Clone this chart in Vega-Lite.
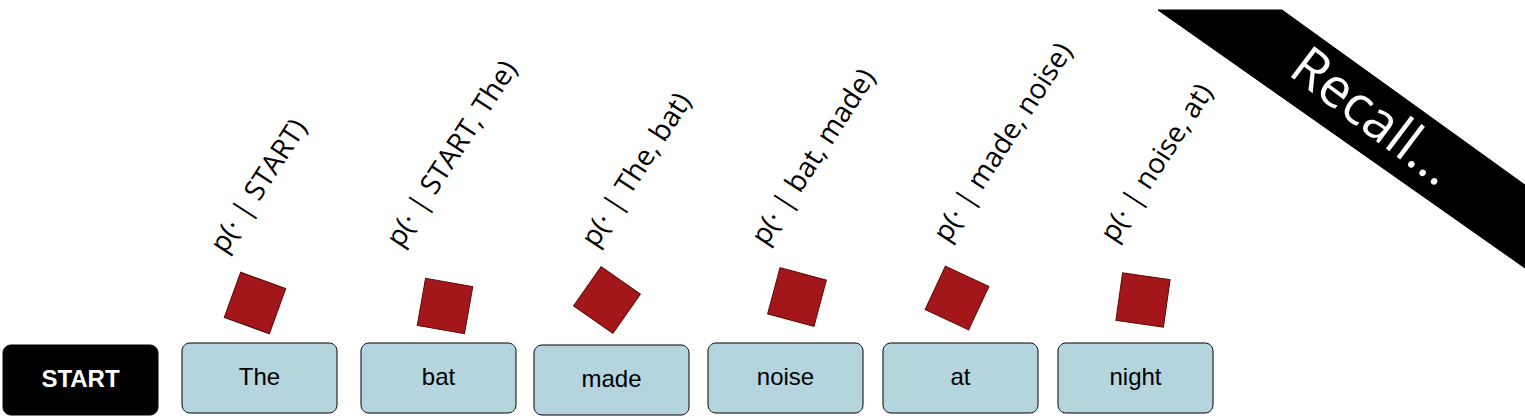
{
  "$schema": "https://vega.github.io/schema/vega-lite/v6.json",
  "width": 1525, "height": 418, "padding": 0, "autosize": {"type": "none"},
  "background": "white",
  "config": {"view": {"stroke": null}},
  "datasets": {
    "boxes": [
      {"w": "START", "x0": 3, "x1": 158, "y0": 345, "y1": 415, "start": true},
      {"w": "The", "x0": 182, "x1": 337, "y0": 343, "y1": 413, "start": false},
      {"w": "bat", "x0": 361, "x1": 516, "y0": 343, "y1": 413, "start": false},
      {"w": "made", "x0": 534, "x1": 689, "y0": 345, "y1": 415, "start": false},
      {"w": "noise", "x0": 708, "x1": 863, "y0": 343, "y1": 413, "start": false},
      {"w": "at", "x0": 883, "x1": 1038, "y0": 343, "y1": 413, "start": false},
      {"w": "night", "x0": 1058, "x1": 1213, "y0": 343, "y1": 413, "start": false}
    ],
    "labels": [
      {"t": "p(· | START)", "x": 230, "y": 258},
      {"t": "p(· | START, The)", "x": 406, "y": 252},
      {"t": "p(· | The, bat)", "x": 601, "y": 252},
      {"t": "p(· | bat, made)", "x": 771, "y": 250},
      {"t": "p(· | made, noise)", "x": 953, "y": 247},
      {"t": "p(· | noise, at)", "x": 1120, "y": 247}
    ],
    "dice": [
      {"x": 255, "y": 303, "a": 20},
      {"x": 445, "y": 306, "a": 10},
      {"x": 607, "y": 300, "a": 35},
      {"x": 797, "y": 297, "a": 15},
      {"x": 957, "y": 298, "a": 25},
      {"x": 1143, "y": 300, "a": 8}
    ],
    "banner": [
      {"x": 1158, "y": 10, "o": 1},
      {"x": 1282, "y": 10, "o": 2},
      {"x": 1525, "y": 185, "o": 3},
      {"x": 1525, "y": 268, "o": 4},
      {"x": 1158, "y": 10, "o": 5}
    ]
  },
  "encoding": {
    "x": {"type": "quantitative", "scale": {"domain": [0, 1525], "nice": false, "zero": false}, "axis": null},
    "y": {"type": "quantitative", "scale": {"domain": [0, 418], "nice": false, "zero": false, "reverse": true}, "axis": null}
  },
  "layer": [
    {
      "data": {"name": "banner"},
      "mark": {"type": "line", "fill": "black", "stroke": "black", "strokeWidth": 1},
      "encoding": {"x": {"field": "x"}, "y": {"field": "y"}, "order": {"field": "o"}}
    },
    {
      "data": {"values": [{"t": "Recall...", "x": 1372, "y": 118}]},
      "mark": {"type": "text", "angle": 37, "fontSize": 54, "font": "Open Sans", "color": "white", "align": "center", "baseline": "middle"},
      "encoding": {"x": {"field": "x"}, "y": {"field": "y"}, "text": {"field": "t"}}
    },
    {
      "data": {"name": "boxes"},
      "mark": {"type": "rect", "cornerRadius": 8, "stroke": "black", "strokeWidth": 1},
      "encoding": {
        "x": {"field": "x0"}, "x2": {"field": "x1"}, "y": {"field": "y0"}, "y2": {"field": "y1"},
        "fill": {"condition": {"test": "datum.start", "value": "black"}, "value": "#b4d4de"}
      }
    },
    {
      "data": {"name": "boxes"},
      "transform": [{"filter": "!datum.start"}, {"calculate": "(datum.x0 + datum.x1) / 2", "as": "cx"}, {"calculate": "(datum.y0 + datum.y1) / 2", "as": "cy"}],
      "mark": {"type": "text", "fontSize": 24, "font": "Liberation Sans", "align": "center", "baseline": "middle", "letterSpacing": -1, "color": "black"},
      "encoding": {"x": {"field": "cx"}, "y": {"field": "cy"}, "text": {"field": "w"}}
    },
    {
      "data": {"name": "boxes"},
      "transform": [{"filter": "datum.start"}, {"calculate": "(datum.x0 + datum.x1) / 2", "as": "cx"}, {"calculate": "(datum.y0 + datum.y1) / 2", "as": "cy"}],
      "mark": {"type": "text", "fontSize": 24, "font": "Liberation Sans", "fontWeight": "bold", "align": "center", "baseline": "middle", "letterSpacing": -2, "color": "white"},
      "encoding": {"x": {"field": "cx"}, "y": {"field": "cy"}, "text": {"field": "w"}}
    },
    {
      "data": {"name": "labels"},
      "mark": {"type": "text", "angle": -57, "fontSize": 28, "font": "Open Sans", "align": "left", "baseline": "bottom", "color": "black"},
      "encoding": {"x": {"field": "x"}, "y": {"field": "y"}, "text": {"field": "t"}}
    },
    {
      "data": {"name": "dice"},
      "mark": {"type": "point", "shape": "square", "filled": true, "size": 2300, "color": "#a3161a", "opacity": 1, "stroke": "#5a0a0a", "strokeWidth": 1},
      "encoding": {"x": {"field": "x"}, "y": {"field": "y"}, "angle": {"field": "a", "type": "quantitative", "scale": null}}
    }
  ]
}
